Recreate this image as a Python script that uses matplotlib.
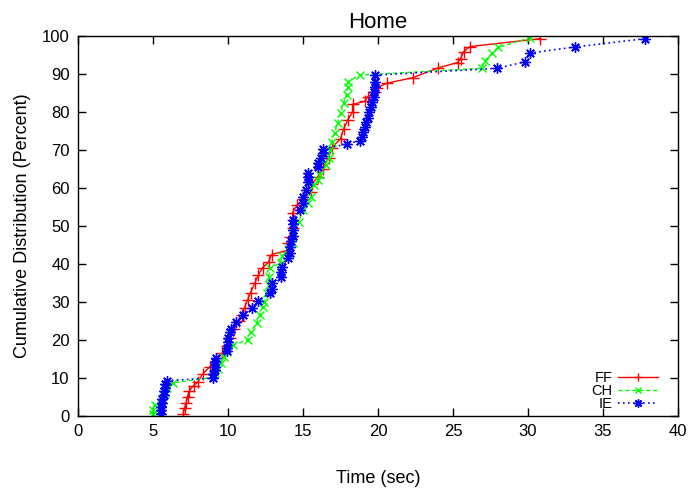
import matplotlib
matplotlib.use("Agg")
import matplotlib.pyplot as plt

plt.rcParams['font.family'] = ['Liberation Sans', 'DejaVu Sans']

series_names = ["FF", "CH", "IE"]

ff_time = [7.0, 7.1, 7.2, 7.3, 7.4, 7.7, 8.0, 8.3, 8.8, 9.2, 9.6, 9.9, 10.1, 10.4, 10.7, 10.9,
           11.1, 11.3, 11.5, 11.8, 12.0, 12.3, 12.7, 12.9, 13.9, 14.0, 14.1, 14.3, 14.3, 14.3,
           14.6, 15.0, 15.5, 15.6, 16.0, 16.3, 16.7, 16.9, 17.5, 17.7, 18.0, 18.3, 18.3, 19.1,
           19.3, 19.8, 19.9, 20.6, 22.3, 24.0, 25.3, 25.5, 25.7, 26.1, 30.8]
ff_pct = [0.5, 2, 3.5, 5, 6.5, 8, 9, 11, 13, 14.5, 16.5, 18.5, 20.5, 23, 25, 26.5,
          28.5, 30.5, 32.5, 35, 37, 39, 40.5, 42.5, 43.5, 45.5, 47, 49.5, 51.5, 53.5,
          55.5, 57, 59, 61, 63, 65, 68, 70.5, 73, 75.5, 78, 80, 82, 82.8,
          84, 85.2, 86.3, 87.6, 89, 91.6, 93, 94, 95.8, 97.2, 99.3]

ch_time = [5.0, 5.0, 5.1, 5.6, 5.8, 5.9, 6.3, 9.0, 9.1, 9.3, 9.5, 9.7, 9.9, 10.3, 11.3, 11.5,
           11.9, 12.1, 12.3, 12.4, 12.6, 12.7, 12.7, 12.8, 13.5, 13.6, 14.0, 14.3, 14.3, 14.7,
           15.0, 15.3, 15.5, 15.7, 16.0, 16.1, 16.5, 16.7, 16.8, 16.9, 17.1, 17.3, 17.5, 17.7,
           17.9, 18.0, 18.0, 18.8, 26.9, 27.1, 27.6, 28.0, 30.1]
ch_pct = [0.5, 1.5, 3, 4.5, 6, 7.5, 8.7, 10.2, 11.3, 12.5, 14, 15.5, 16.8, 18.7, 20, 22,
          24.5, 26.5, 28.7, 30, 32.4, 34.5, 36.6, 38.9, 40.3, 42, 44, 45.5, 48.2, 51,
          54.2, 56, 57.6, 60.8, 62, 63.5, 66, 68, 70, 72, 74.5, 77, 79.7, 82.4,
          84.5, 86.6, 88, 89.7, 91.5, 93.3, 95.5, 97, 99.5]

ie_time = [5.5, 5.5, 5.5, 5.6, 5.6, 5.7, 5.7, 5.8, 5.8, 5.9, 9.0, 9.0, 9.1, 9.1, 9.1, 9.2,
           9.9, 9.9, 10.0, 10.0, 10.1, 10.2, 10.5, 11.0, 11.6, 12.0, 12.8, 12.9, 12.9, 13.5,
           13.5, 13.6, 14.0, 14.1, 14.1, 14.2, 14.3, 14.3, 14.3, 14.3, 14.8, 15.0, 15.0, 15.2,
           15.3, 15.3, 15.3, 16.0, 16.0, 16.2, 16.3, 16.3, 17.9, 18.8, 18.9, 19.0, 19.1, 19.2,
           19.3, 19.4, 19.5, 19.6, 19.7, 19.7, 19.8, 19.8, 19.8, 27.9, 29.8, 30.1, 33.1, 37.8]
ie_pct = [0.5, 1.5, 2.5, 3.5, 4.5, 5.5, 6.5, 7.5, 8.5, 9.3, 10, 11, 12, 13, 14.2, 15.2,
          17, 18, 19.5, 20.5, 22, 22.8, 24.7, 26.6, 28.5, 30.2, 32.5, 33.5, 35, 36.6,
          38, 39.2, 41.5, 43, 44.5, 46, 47.5, 49, 50.5, 51.6, 54.2, 56, 57.6, 59.5,
          61.5, 63, 64, 65.5, 66.6, 68, 69.2, 70.3, 71.5, 72.5, 73.5, 74.7, 76, 77.3,
          78.5, 80, 81.3, 82.6, 84, 85.3, 86.6, 88, 89.7, 91.5, 93.2, 95.5, 97.1, 99.3]

x_ticks = [0, 5, 10, 15, 20, 25, 30, 35, 40]
y_ticks = [0, 10, 20, 30, 40, 50, 60, 70, 80, 90, 100]

fig = plt.figure(figsize=(6.88, 4.95), dpi=100)
ax = fig.add_axes([78/688, 79/495, 600/688, 380/495])

ax.plot(ff_time, ff_pct, color='#ff0000', linestyle='-', linewidth=1.0,
        marker='+', markersize=8, markeredgewidth=1.0, label=series_names[0])
ax.plot(ch_time, ch_pct, color='#00ff00', linestyle=(0, (3, 2)), linewidth=1.0,
        marker='x', markersize=6, markeredgewidth=1.0, label=series_names[1])
ax.plot(ie_time, ie_pct, color='#0000ff', linestyle=(0, (1, 2)), linewidth=1.2,
        marker=(8, 2, 0), markersize=7.5, markeredgewidth=1.0, label=series_names[2])

ax.set_xlim(0, 40)
ax.set_ylim(0, 100)
ax.set_xticks(x_ticks)
ax.set_yticks(y_ticks)
ax.tick_params(direction='in', top=True, right=True, length=6, width=1,
               labelsize=12, pad=6)
for s in ax.spines.values():
    s.set_linewidth(1.0)

ax.set_title("Home", fontsize=16, pad=6)
ax.set_xlabel("Time (sec)", fontsize=13, labelpad=22)
ax.set_ylabel("Cumulative Distribution (Percent)", fontsize=13, labelpad=8)

leg = ax.legend(loc='lower right', bbox_to_anchor=(0.967, 0.012), frameon=False,
                markerfirst=False, fontsize=10.5, handlelength=2.75,
                labelspacing=-0.05, handletextpad=0.4, borderaxespad=0, borderpad=0,
                markerscale=0.8)

fig.savefig("out.png", dpi=100)
